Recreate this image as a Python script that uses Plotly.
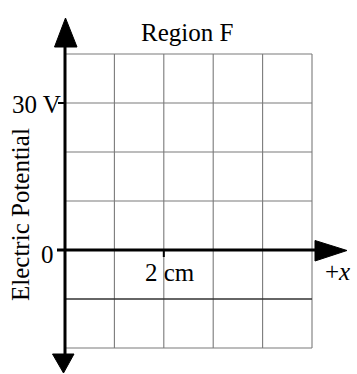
import plotly.graph_objects as go

# ---- data ----
x_cm = [0, 5]            # region F extent (cm)
potential_V = [-10, -10] # electric potential in region F (V)
grid_x = [1, 2, 3, 4, 5]
grid_v = [40, 30, 20, 10, -20]
x_tick_val = 2
x_tick_label = "2 cm"
v_tick_vals = [30, 0]
v_tick_labels = ["30 V", "0"]

W, H = 357, 374
X0PX, XPX = 65.0, (312 - 65) / 5.0   # pixel of x=0, px per cm
Y0PX, YPX = 250.0, (250 - 103) / 30.0  # pixel of V=0, px per V

def px2x(p):
    return (p - X0PX) / XPX

def px2y(p):
    return (Y0PX - p) / YPX

fig = go.Figure()
grid_col = "#7a7a7a"
# grid
for gx in grid_x:
    fig.add_trace(go.Scatter(x=[gx, gx], y=[min(grid_v), max(grid_v)], mode="lines",
                             line=dict(color=grid_col, width=1.1), hoverinfo="skip", showlegend=False))
for gv in grid_v:
    fig.add_trace(go.Scatter(x=[0, max(grid_x)], y=[gv, gv], mode="lines",
                             line=dict(color=grid_col, width=1.1), hoverinfo="skip", showlegend=False))
# data line
fig.add_trace(go.Scatter(x=x_cm, y=potential_V, mode="lines",
                         line=dict(color="#333333", width=1.5), showlegend=False))

shapes = []
# axes lines
shapes.append(dict(type="line", xref="x", yref="y", x0=0, x1=0, y0=px2y(45), y1=px2y(358),
                   line=dict(color="black", width=3)))
shapes.append(dict(type="line", xref="x", yref="y", x0=px2x(57), x1=px2x(318), y0=0, y1=0,
                   line=dict(color="black", width=3)))
# ticks
shapes.append(dict(type="line", xref="x", yref="y", x0=px2x(58), x1=0, y0=v_tick_vals[0], y1=v_tick_vals[0],
                   line=dict(color="black", width=2)))
shapes.append(dict(type="line", xref="x", yref="y", x0=x_tick_val, x1=x_tick_val, y0=0, y1=px2y(257),
                   line=dict(color="black", width=2)))

def tri(pts):
    d = "M " + " L ".join(f"{px2x(a)},{px2y(b)}" for a, b in pts) + " Z"
    return dict(type="path", xref="x", yref="y", path=d, fillcolor="black", line=dict(color="black", width=1))

shapes.append(tri([(65.5, 18), (54.5, 47), (77, 47)]))
shapes.append(tri([(63.5, 373), (52.5, 354), (74, 354)]))
shapes.append(tri([(347, 250.5), (315, 240.5), (315, 261)]))

font = dict(family="Liberation Serif, Times New Roman, serif", size=25, color="black")
ann = []
def A(text, px, py, xanchor="center", textangle=0):
    ann.append(dict(text=text, x=px / W, y=1 - py / H, xref="paper", yref="paper",
                    showarrow=False, xanchor=xanchor, yanchor="middle", font=font, textangle=textangle))

A("Region F", 187, 32)
A(v_tick_labels[0], 63, 104, xanchor="right")
A(v_tick_labels[1], 56, 254, xanchor="right")
A(x_tick_label, 170, 272)
A("+<i>x</i>", 337, 271)
A("Electric Potential", 20, 215, textangle=-90)

fig.update_layout(
    width=W, height=H, margin=dict(l=0, r=0, t=0, b=0),
    paper_bgcolor="white", plot_bgcolor="white",
    xaxis=dict(range=[px2x(0), px2x(W)], visible=False, fixedrange=True),
    yaxis=dict(range=[px2y(H), px2y(0)], visible=False, fixedrange=True),
    shapes=shapes, annotations=ann, showlegend=False,
)
fig.write_html("out.html", config={"displayModeBar": False},
               post_script="document.body.style.margin='0';document.body.style.overflow='hidden';")
